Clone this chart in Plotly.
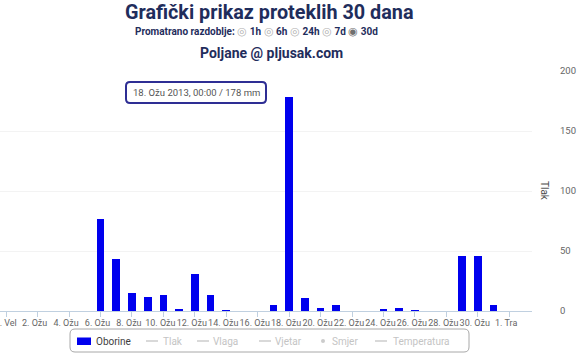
import plotly.graph_objects as go
import pandas as pd

# ---------------- data ----------------
dates = pd.date_range("2013-02-28", "2013-04-01", freq="D").strftime("%Y-%m-%d").tolist()
oborine = [0,            # 28 Feb
           0, 0, 0, 0, 0,  # 1-5 Mar
           77, 43, 15, 12, 13, 1.4, 31, 13, 0.8, 0, 0, 5,  # 6-17
           178, 11, 2.5, 5, 0, 0, 1.4, 2.5, 0.8, 0, 0,     # 18-28
           46, 46, 5,   # 29-31
           0]           # 1 Apr
tick_dates = ["2013-02-28", "2013-03-02", "2013-03-04", "2013-03-06", "2013-03-08",
              "2013-03-10", "2013-03-12", "2013-03-14", "2013-03-16", "2013-03-18",
              "2013-03-20", "2013-03-22", "2013-03-24", "2013-03-26", "2013-03-28",
              "2013-03-30", "2013-04-01"]
tick_text = ["28. Vel", "2. Ožu", "4. Ožu", "6. Ožu", "8. Ožu", "10. Ožu", "12. Ožu",
             "14. Ožu", "16. Ožu", "18. Ožu", "20. Ožu", "22. Ožu", "24. Ožu", "26. Ožu",
             "28. Ožu", "30. Ožu", "1. Tra"]
y_ticks = [0, 50, 100, 150, 200]
legend_names = ["Oborine", "Tlak", "Vlaga", "Vjetar", "Smjer", "Temperatura"]

# ---------------- layout helpers (pixel -> paper) ----------------
W, H = 580, 355
PL, PR, PT, PB = 0, 532, 71, 311


def px(x):
    return (x - PL) / (PR - PL)


def py(y):
    return (PB - y) / (PB - PT)


def rrect(x0, y0, x1, y1, r):
    a, b, c, d = px(x0), px(x1), py(y0), py(y1)
    rx = r / (PR - PL)
    ry = r / (PB - PT)
    return (f"M {a+rx},{c} L {b-rx},{c} Q {b},{c} {b},{c-ry} L {b},{d+ry} "
            f"Q {b},{d} {b-rx},{d} L {a+rx},{d} Q {a},{d} {a},{d+ry} "
            f"L {a},{c-ry} Q {a},{c} {a+rx},{c} Z")


NAVY = "#1f2d5c"
FONT = "Roboto"

fig = go.Figure()
fig.add_trace(go.Bar(
    x=dates, y=oborine, name=legend_names[0],
    width=0.49 * 86400000,
    marker=dict(color="#0000ee", line=dict(width=0)),
    showlegend=False,
))

annotations = []
shapes = []

# titles
annotations.append(dict(text="<b>Grafički prikaz proteklih 30 dana</b>", x=px(269), y=py(12),
                        font=dict(family=FONT, size=19.8, color=NAVY)))
radio_off = "<span style='color:#b0b0b0;font-size:11px'>◎</span>"
radio_on = "<span style='color:#707070;font-size:11px'>◉</span>"
sub = ("<b>Promatrano razdoblje:</b> " + radio_off + " <b>1h</b> " + radio_off + " <b>6h</b> "
       + radio_off + " <b>24h</b> " + radio_off + " <b>7d</b> " + radio_on + " <b>30d</b>")
annotations.append(dict(text=sub, x=px(256), y=py(32),
                        font=dict(family=FONT, size=10, color=NAVY)))
annotations.append(dict(text="<b>Poljane @ pljusak.com</b>", x=px(271), y=py(53),
                        font=dict(family=FONT, size=14, color=NAVY)))

# axis title
annotations.append(dict(text="Tlak", x=px(545), y=py(191), textangle=90,
                        font=dict(family=FONT, size=10, color="#4d4d4d")))

# tooltip
shapes.append(dict(type="path", path=rrect(126, 82, 266, 103, 4), xref="paper", yref="paper",
                   line=dict(color="#2e2e94", width=2), fillcolor="white", layer="above"))
annotations.append(dict(text="18. Ožu 2013, 00:00 / 178 mm", x=px(196), y=py(92.5),
                        font=dict(family=FONT, size=9.5, color="#555555")))

# legend box
shapes.append(dict(type="path", path=rrect(70, 329, 469, 352, 5), xref="paper", yref="paper",
                   line=dict(color="#a8a8a8", width=1), fillcolor="white", layer="above"))
ly = 341
shapes.append(dict(type="rect", x0=px(77), x1=px(91), y0=py(337.5), y1=py(345),
                   xref="paper", yref="paper", fillcolor="#0000ee",
                   line=dict(color="#0000ee", width=0), layer="above"))
line_pos = {"Tlak": 146, "Vlaga": 197, "Vjetar": 259, "Temperatura": 375}
for nm, x0 in line_pos.items():
    shapes.append(dict(type="line", x0=px(x0), x1=px(x0 + 12), y0=py(ly), y1=py(ly),
                       xref="paper", yref="paper", line=dict(color="#cccccc", width=1.5),
                       layer="above"))
shapes.append(dict(type="circle", x0=px(321), x1=px(325), y0=py(339), y1=py(343),
                   xref="paper", yref="paper", fillcolor="#cccccc",
                   line=dict(color="#cccccc", width=0), layer="above"))
text_pos = {"Oborine": 94, "Tlak": 161, "Vlaga": 211, "Vjetar": 273, "Smjer": 330,
            "Temperatura": 391}
for nm in legend_names:
    annotations.append(dict(text=nm, x=px(text_pos[nm]), y=py(ly), xanchor="left",
                            font=dict(family=FONT, size=10,
                                      color="#3e3e3e" if nm == "Oborine" else "#c4c4c4")))

for a in annotations:
    a.setdefault("xref", "paper")
    a.setdefault("yref", "paper")
    a.setdefault("xanchor", "center")
    a["yanchor"] = "middle"
    a["showarrow"] = False

fig.update_layout(
    width=W, height=H,
    margin=dict(l=PL, r=W - PR, t=PT, b=H - PB, pad=0, autoexpand=False),
    paper_bgcolor="white", plot_bgcolor="white",
    showlegend=False,
    annotations=annotations, shapes=shapes,
    xaxis=dict(
        type="date", automargin=False,
        range=["2013-02-27 14:34", "2013-04-02 10:48"],
        tickvals=tick_dates, ticktext=tick_text, tickangle=0,
        tickfont=dict(family=FONT, size=9, color="#666666"),
        ticklabelshift=-3, ticklabelstandoff=-2, ticklabeloverflow="allow",
        showgrid=False, showline=True, linecolor="#c0d0e0", linewidth=1,
        ticks="outside", ticklen=5, tickcolor="#c0d0e0",
        zeroline=False, fixedrange=True,
    ),
    yaxis=dict(
        side="right", range=[0, 200], tickvals=y_ticks, automargin=False,
        tickfont=dict(family=FONT, size=9.5, color="#666666"),
        ticklabelstandoff=27,
        showgrid=True, gridcolor="#f3f3f3", gridwidth=1,
        zeroline=False, showline=False, ticks="",
    ),
    bargap=0,
)

fig.write_html("out.html")
